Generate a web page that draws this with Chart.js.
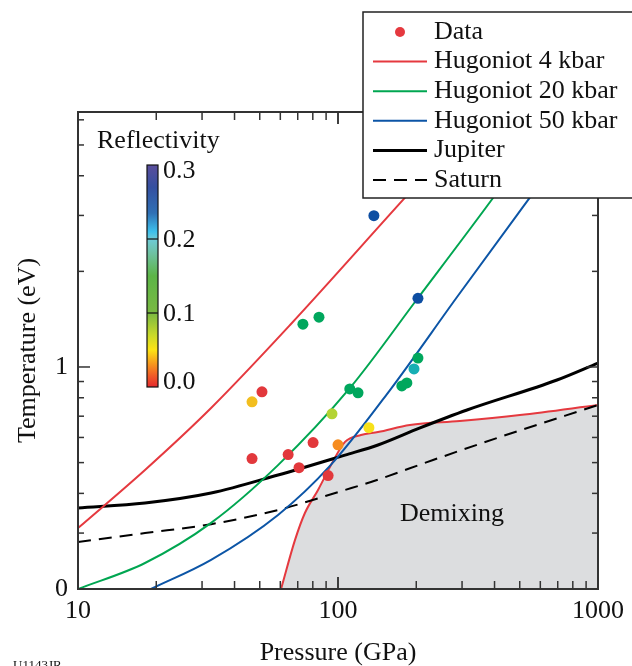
<!DOCTYPE html>
<html>
<head>
<meta charset="utf-8">
<script src="https://cdn.jsdelivr.net/npm/chart.js@4.4.0/dist/chart.umd.min.js"></script>
<style>
  html, body { margin: 0; padding: 0; background: #fff; }
</style>
</head>
<body>
<canvas id="demix-chart" width="632" height="666"></canvas>
<script>
const SERIF = '"Liberation Serif", "Times New Roman", serif';

// measured shots: pressure (GPa), temperature (eV), reflectivity
const dataPressure = [46.7, 51.0, 46.7, 64.3, 70.8, 80.2, 91.6, 100, 94.8, 131.5, 111, 119.4, 73.3, 84.5, 137.4, 203, 203, 196, 176, 184];
const dataTemp = [0.515, 0.835, 0.777, 0.530, 0.482, 0.578, 0.455, 0.569, 0.712, 0.644, 0.853, 0.829, 1.364, 1.435, 2.995, 1.645, 1.067, 0.986, 0.872, 0.891];
const dataReflect = [0, 0, 0.042, 0, 0, 0, 0, 0.028, 0.08, 0.055, 0.13, 0.13, 0.13, 0.13, 0.27, 0.27, 0.13, 0.19, 0.13, 0.13];

// model curves
const h4P = [10, 18.1, 32.5, 65.4, 177.8, 361];
const h4T = [0.311, 0.474, 0.743, 1.356, 3.357, 6.35];
const h20P = [10, 18.1, 32.5, 58.8, 111.2, 203, 394.6, 683];
const h20T = [0.2, 0.2415, 0.323, 0.491, 0.859, 1.649, 3.405, 6.35];
const h50P = [19.09, 32.5, 58.8, 93.1, 158.5, 287, 514.6, 957];
const h50T = [0.2, 0.247, 0.342, 0.488, 0.846, 1.661, 3.19, 6.35];
const jupiterP = [10, 18.1, 32.5, 58.8, 106.4, 142.5, 206.8, 313.5, 695.5, 1000];
const jupiterT = [0.360, 0.373, 0.401, 0.457, 0.528, 0.568, 0.643, 0.732, 0.910, 1.029];
const saturnP = [10, 18.1, 32.5, 58.8, 106.4, 133.9, 232, 420, 1000];
const saturnT = [0.281, 0.300, 0.320, 0.3546, 0.410, 0.4345, 0.5095, 0.602, 0.759];
const demixP = [60.4, 68.3, 74.6, 83.8, 94.0, 106.4, 122.6, 142.5, 189, 294, 501, 1000];
const demixT = [0.2, 0.285, 0.347, 0.410, 0.491, 0.581, 0.611, 0.624, 0.657, 0.676, 0.706, 0.759];

const xTicks = [10, 100, 1000];
const yTicks = [0.2, 1];
const yTickLabels = ['0', '1'];
const cbarTicks = [0, 0.1, 0.2, 0.3];

// colour map for the points
const cmap = [
  [0, '#e2383c'], [0.018, '#f0612b'], [0.03, '#f7941d'], [0.042, '#f2be1f'],
  [0.055, '#f7e11a'], [0.08, '#b3d334'], [0.1, '#72b845'], [0.115, '#4fb54c'],
  [0.13, '#00a75d'], [0.16, '#4db6a0'], [0.19, '#17afb4'], [0.205, '#45c5e6'],
  [0.23, '#2f7bc0'], [0.27, '#0d4ea2'], [0.3, '#54509f']
];
// shading of the colour bar itself
const cbarStops = [
  [0, '#e52a2e'], [0.015, '#f05a28'], [0.03, '#f7931e'], [0.05, '#fde414'],
  [0.07, '#c9da2a'], [0.1, '#7ab942'], [0.15, '#5cb547'], [0.18, '#6ec1a0'],
  [0.2, '#6ecbd8'], [0.21, '#3dc0ec'], [0.235, '#2f70b5'], [0.27, '#3550a0'], [0.3, '#5a4e9c']
];
const hex = (h) => [1, 3, 5].map(i => parseInt(h.substr(i, 2), 16));
const colorFor = (r) => {
  for (let i = 1; i < cmap.length; i++) {
    if (r <= cmap[i][0]) {
      const [r0, c0] = cmap[i - 1], [r1, c1] = cmap[i];
      const t = (r - r0) / (r1 - r0);
      const a = hex(c0), b = hex(c1);
      return 'rgb(' + a.map((v, k) => Math.round(v + (b[k] - v) * t)).join(',') + ')';
    }
  }
  return cmap[cmap.length - 1][1];
};

const pts = (xs, ys) => xs.map((x, i) => ({ x: x, y: ys[i] }));

const RED = '#e5393f', GREEN = '#00a651', BLUE = '#0c55a6';

const curve = (label, xs, ys, color, extra) => Object.assign({
  label: label, data: pts(xs, ys), showLine: true, borderColor: color,
  borderWidth: 2, pointRadius: 0, cubicInterpolationMode: 'monotone', fill: false
}, extra || {});

// frame, ticks, colorbar, legend and labels
const decorations = {
  id: 'decorations',
  afterDatasetsDraw(chart) {
    const { ctx, chartArea: a, scales: { x, y } } = chart;
    ctx.save();
    ctx.strokeStyle = '#333';
    ctx.lineWidth = 2;
    ctx.strokeRect(a.left, a.top, a.right - a.left, a.bottom - a.top);

    const tick = (x1, y1, x2, y2) => { ctx.beginPath(); ctx.moveTo(x1, y1); ctx.lineTo(x2, y2); ctx.stroke(); };
    ctx.lineWidth = 1.5;
    for (let d = 10; d < 1000; d *= 10) {
      for (let k = 1; k <= 10; k++) {
        const v = d * k;
        const px = x.getPixelForValue(v);
        const len = xTicks.includes(v) ? 12 : 8;
        tick(px, a.bottom, px, a.bottom - len);
        tick(px, a.top, px, a.top + len);
      }
    }
    const yMinor = [0.2, 0.3, 0.4, 0.5, 0.6, 0.7, 0.8, 0.9, 1, 2, 3, 4, 5, 6];
    yMinor.forEach(v => {
      const py = y.getPixelForValue(v);
      const len = v === 1 ? 12 : 6;
      tick(a.left, py, a.left + len, py);
      tick(a.right, py, a.right - len, py);
    });

    // Demixing label
    ctx.fillStyle = '#111';
    ctx.font = '26px ' + SERIF;
    ctx.textAlign = 'center';
    ctx.textBaseline = 'middle';
    ctx.fillText('Demixing', 452, 514);

    // colorbar
    const cbL = 147, cbW = 11, cbTop = 165, cbBot = 387;
    const grad = ctx.createLinearGradient(0, cbBot, 0, cbTop);
    cbarStops.forEach(([r, c]) => grad.addColorStop(r / 0.3, c));
    ctx.fillStyle = grad;
    ctx.fillRect(cbL, cbTop, cbW, cbBot - cbTop);
    ctx.strokeStyle = '#111';
    ctx.lineWidth = 1.2;
    ctx.strokeRect(cbL, cbTop, cbW, cbBot - cbTop);
    ctx.fillStyle = '#111';
    ctx.textAlign = 'left';
    cbarTicks.forEach(v => {
      const py = cbBot - (cbBot - cbTop) * v / 0.3;
      if (v > 0 && v < 0.3) tick(cbL, py, cbL + cbW, py);
      const shift = v === 0.3 ? 6 : (v === 0 ? -5 : 1);
      ctx.fillText(v.toFixed(1), cbL + 16, py + shift);
    });
    ctx.textBaseline = 'alphabetic';
    ctx.fillText('Reflectivity', 97, 148);

    // legend
    const lgL = 363, lgT = 12, lgB = 198;
    ctx.fillStyle = '#fff';
    ctx.fillRect(lgL, lgT, 300, lgB - lgT);
    ctx.strokeStyle = '#222';
    ctx.lineWidth = 1.5;
    ctx.strokeRect(lgL, lgT, 300, lgB - lgT);
    chart.data.datasets.slice(0, 6).forEach((ds, i) => {
      const cy = 32 + i * 29.6;
      if (i === 0) {
        ctx.fillStyle = RED;
        ctx.beginPath(); ctx.arc(400, cy, 5, 0, Math.PI * 2); ctx.fill();
      } else {
        ctx.strokeStyle = ds.borderColor;
        ctx.lineWidth = ds.borderWidth;
        ctx.setLineDash(ds.borderDash || []);
        tick(373, cy, 427, cy);
        ctx.setLineDash([]);
      }
      ctx.fillStyle = '#111';
      ctx.textBaseline = 'middle';
      ctx.fillText(ds.label, 434, cy);
    });

    ctx.font = '13px ' + SERIF;
    ctx.textBaseline = 'alphabetic';
    ctx.fillText('U1143JR', 13, 669);
    ctx.restore();
  }
};

const ctx = document.getElementById('demix-chart').getContext('2d');
new Chart(ctx, {
  type: 'scatter',
  data: {
    datasets: [
      {
        label: 'Data', data: pts(dataPressure, dataTemp),
        pointBackgroundColor: dataReflect.map(colorFor), pointBorderWidth: 0,
        pointRadius: 5.5, showLine: false
      },
      curve('Hugoniot 4 kbar', h4P, h4T, RED),
      curve('Hugoniot 20 kbar', h20P, h20T, GREEN),
      curve('Hugoniot 50 kbar', h50P, h50T, BLUE),
      curve('Jupiter', jupiterP, jupiterT, '#000', { borderWidth: 3 }),
      curve('Saturn', saturnP, saturnT, '#000', { borderDash: [13, 8] }),
      curve('Demixing', demixP, demixT, RED, { fill: 'start', backgroundColor: '#dcdddf' })
    ]
  },
  options: {
    responsive: false,
    animation: false,
    layout: { padding: { top: 112, right: 34, left: 0, bottom: 0 } },
    plugins: { legend: { display: false }, tooltip: { enabled: false } },
    scales: {
      x: {
        type: 'logarithmic', min: 10, max: 1000,
        afterBuildTicks: (s) => { s.ticks = xTicks.map(v => ({ value: v })); },
        afterFit: (s) => { s.height = 77; },
        grid: { display: false, drawTicks: false },
        border: { display: false },
        ticks: {
          color: '#111', padding: 7, maxRotation: 0, autoSkip: false,
          font: { family: SERIF, size: 26 },
          callback: (v) => String(v)
        },
        title: {
          display: true, text: 'Pressure (GPa)', color: '#111',
          font: { family: SERIF, size: 26, lineHeight: 1 }, padding: { top: 0, bottom: 0 }
        }
      },
      y: {
        type: 'logarithmic', min: 0.2, max: 6.35,
        afterBuildTicks: (s) => { s.ticks = yTicks.map(v => ({ value: v })); },
        afterFit: (s) => { s.width = 78; },
        grid: { display: false, drawTicks: false },
        border: { display: false },
        ticks: {
          color: '#111', padding: 10, autoSkip: false,
          font: { family: SERIF, size: 26 },
          callback: (v) => yTickLabels[yTicks.indexOf(v)]
        },
        title: {
          display: true, text: 'Temperature (eV)', color: '#111',
          font: { family: SERIF, size: 26, lineHeight: 1 }, padding: { top: 15, bottom: 0 }
        }
      }
    }
  },
  plugins: [decorations]
});
</script>
</body>
</html>
